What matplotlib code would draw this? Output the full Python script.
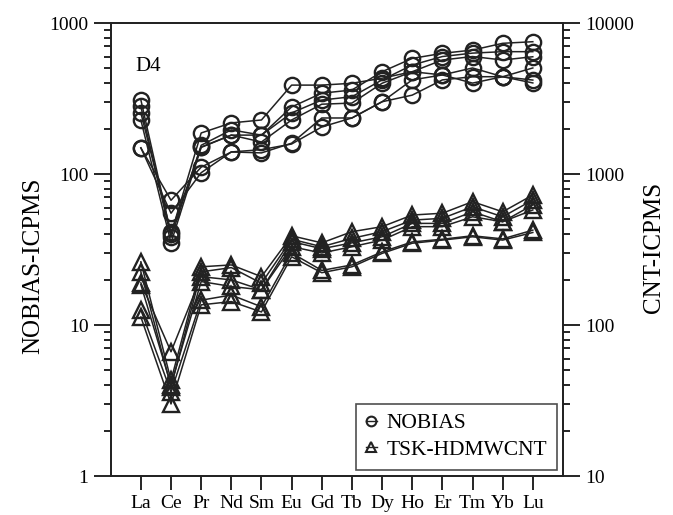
import matplotlib
matplotlib.use("Agg")
import matplotlib.pyplot as plt
from matplotlib.ticker import LogLocator, FuncFormatter, NullFormatter
from matplotlib.lines import Line2D

plt.rcParams['font.family'] = ['Liberation Serif', 'DejaVu Serif']

elements = ["La", "Ce", "Pr", "Nd", "Sm", "Eu", "Gd", "Tb", "Dy", "Ho", "Er", "Tm", "Yb", "Lu"]

# NOBIAS-ICPMS (left axis)
nobias_1 = [310, 40, 187, 218, 228, 388, 388, 399, 431, 476, 453, 400, 441, 401]
nobias_2 = [280, 38, 155, 196, 181, 278, 343, 360, 476, 583, 630, 662, 734, 752]
nobias_3 = [254, 41, 151, 181, 181, 254, 309, 325, 420, 527, 600, 632, 646, 646]
nobias_4 = [228, 35, 150, 181, 163, 228, 290, 295, 399, 476, 569, 600, 569, 598]
nobias_5 = [149, 67, 111, 140, 138, 160, 235, 235, 301, 420, 453, 504, 441, 504]
nobias_6 = [149, 55, 102, 140, 145, 158, 205, 235, 301, 333, 420, 441, 441, 419]

# TSK-HDMWCNT, CNT-ICPMS (right axis)
tsk_1 = [262, 43, 243, 250, 209, 390, 350, 415, 448, 535, 550, 656, 562, 726]
tsk_2 = [225, 39, 225, 240, 189, 370, 330, 375, 415, 495, 509, 607, 521, 673]
tsk_3 = [190, 66.5, 209, 199, 171, 357, 320, 350, 384, 471, 471, 562, 483, 624]
tsk_4 = [185, 40, 194, 180, 171, 330, 300, 330, 365, 448, 448, 521, 483, 578]
tsk_5 = [126, 36, 146, 158, 132, 300, 230, 250, 305, 355, 370, 390, 372, 425]
tsk_6 = [113, 30, 136, 143, 122, 283, 222, 243, 298, 348, 365, 384, 365, 410]

nobias_series = [nobias_1, nobias_2, nobias_3, nobias_4, nobias_5, nobias_6]
tsk_series = [tsk_1, tsk_2, tsk_3, tsk_4, tsk_5, tsk_6]

fig = plt.figure(figsize=(6.73, 5.15), dpi=100)
ax = fig.add_axes([0.1645, 0.0757, 0.672, 0.8796])
ax2 = ax.twinx()

x = list(range(len(elements)))
for s in nobias_series:
    ax.plot(x, s, color='#222222', lw=1.1, marker='o', ms=11, mfc='none',
            mec='#222222', mew=1.7)
for s in tsk_series:
    ax2.plot(x, s, color='#222222', lw=1.1, marker='^', ms=11, mfc='none',
             mec='#222222', mew=1.7)

ax.set_yscale('log')
ax2.set_yscale('log')
ax.set_ylim(1, 1000)
ax2.set_ylim(10, 10000)
ax.set_xlim(-1, 14)
ax.set_xticks(x)
ax.set_xticklabels(elements, fontsize=14)

for a in (ax, ax2):
    a.yaxis.set_major_locator(LogLocator(base=10, numticks=10))
    a.yaxis.set_minor_locator(LogLocator(base=10, subs=range(2, 10), numticks=20))
    a.yaxis.set_major_formatter(FuncFormatter(lambda v, p: f"{int(round(v))}"))
    a.yaxis.set_minor_formatter(NullFormatter())
    a.tick_params(axis='y', which='major', direction='out', length=12, width=1.2,
                  labelsize=14, pad=4)
    a.tick_params(axis='y', which='minor', direction='out', length=5, width=1.2)
    for sp in a.spines.values():
        sp.set_linewidth(1.3)
        sp.set_color('#222222')
ax.tick_params(axis='x', which='major', direction='out', length=10, width=1.2, pad=4)
ax.tick_params(axis='x', which='minor', bottom=False)

ax.set_ylabel("NOBIAS-ICPMS", fontsize=18)
ax2.set_ylabel("CNT-ICPMS", fontsize=18)
ax.yaxis.set_label_coords(-0.147, 0.464)
ax2.yaxis.set_label_coords(1.177, 0.505)

ax.text(0.055, 0.895, "D4", transform=ax.transAxes, fontsize=15)

handles = [
    Line2D([], [], color='#222222', lw=1.0, marker='o', ms=7, mfc='none', mew=1.5),
    Line2D([], [], color='#222222', lw=1.0, marker='^', ms=7, mfc='none', mew=1.5),
]
leg = ax2.legend(handles, ["NOBIAS", "TSK-HDMWCNT"], loc='lower right', fontsize=15.5,
                 frameon=True, fancybox=False, edgecolor='#222222', handlelength=0.5,
                 handletextpad=0.45, borderaxespad=0.3, borderpad=0.45, labelspacing=0.3)
leg.get_frame().set_linewidth(1.2)

fig.savefig("out.png", dpi=100)
